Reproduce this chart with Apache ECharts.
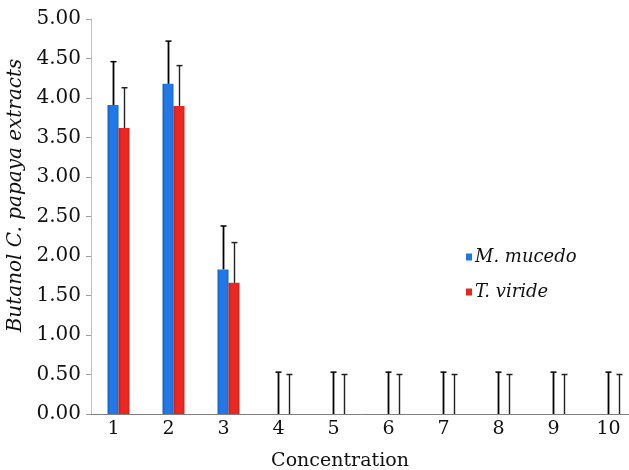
<!DOCTYPE html>
<html>
<head>
<meta charset="utf-8">
<script src="https://cdn.jsdelivr.net/npm/echarts@6/dist/echarts.min.js"></script>
<style>html,body{margin:0;padding:0;background:#fff;}#c{width:629px;height:470px;}</style>
</head>
<body>
<div id="c"></div>
<script>
const categories = ['1','2','3','4','5','6','7','8','9','10'];
const mucedo = [3.91, 4.18, 1.83, 0, 0, 0, 0, 0, 0, 0];
const mucedoErr = [0.55, 0.54, 0.55, 0.53, 0.53, 0.53, 0.53, 0.53, 0.53, 0.53];
const viride = [3.62, 3.90, 1.66, 0, 0, 0, 0, 0, 0, 0];
const virideErr = [0.51, 0.51, 0.51, 0.50, 0.50, 0.50, 0.50, 0.50, 0.50, 0.50];
const yTicks = {min: 0, max: 5, step: 0.5};

const BW = 11;
const chart = echarts.init(document.getElementById('c'));

function errSeries(vals, errs, off, color, lw) {
  return {
    type: 'custom',
    silent: true,
    z: 5,
    data: vals.map((v, i) => [i, v, errs[i]]),
    renderItem: function (params, api) {
      const i = api.value(0), v = api.value(1), e = api.value(2);
      const p0 = api.coord([i, v]);
      const p1 = api.coord([i, v + e]);
      const x = Math.round(p0[0] + off) + 0.5;
      return {
        type: 'group',
        children: [
          {type: 'line', shape: {x1: x, y1: p0[1], x2: x, y2: p1[1]}, style: {stroke: color, lineWidth: lw}},
          {type: 'line', shape: {x1: x - 3, y1: p1[1], x2: x + 3, y2: p1[1]}, style: {stroke: color, lineWidth: 1.5}}
        ]
      };
    }
  };
}

const serif = 'DejaVu Serif';
const blueGrad = new echarts.graphic.LinearGradient(0, 0, 1, 0, [
  {offset: 0, color: '#1a5fb8'}, {offset: 0.25, color: '#2079e6'}, {offset: 0.8, color: '#2079e6'}, {offset: 1, color: '#1b66c4'}]);
const redGrad = new echarts.graphic.LinearGradient(0, 0, 1, 0, [
  {offset: 0, color: '#c81d17'}, {offset: 0.25, color: '#ea2821'}, {offset: 0.8, color: '#ea2821'}, {offset: 1, color: '#cc1f19'}]);
chart.setOption({
  animation: false,
  grid: {left: 91, top: 19, height: 395, width: 550, containLabel: false, outerBoundsMode: 'none'},
  legend: {
    orient: 'vertical', left: 461, top: 243, itemWidth: 6, itemHeight: 7, itemGap: 17,
    icon: 'rect',
    data: [{name: 'M. mucedo', itemStyle: {color: '#1f77e3'}}, {name: 'T. viride', itemStyle: {color: '#e82620'}}],
    textStyle: {fontFamily: serif, fontStyle: 'italic', fontSize: 18, color: '#111', padding: [0,0,0,-2]}
  },
  xAxis: {
    type: 'category', data: categories,
    name: 'Concentration', nameLocation: 'middle', nameGap: 38,
    nameTextStyle: {fontFamily: serif, fontSize: 19, color: '#111', padding: [0, 52, 0, 0]},
    axisLine: {lineStyle: {color: '#7f7f7f', width: 1}},
    axisTick: {show: false},
    axisLabel: {fontFamily: serif, fontSize: 19, color: '#111', margin: 6, padding: [0, 10, 0, 0]}
  },
  yAxis: {
    type: 'value', min: yTicks.min, max: yTicks.max, interval: yTicks.step,
    name: 'Butanol C. papaya extracts', nameLocation: 'middle', nameGap: 62, nameRotate: 90,
    nameTextStyle: {fontFamily: serif, fontStyle: 'italic', fontSize: 20, color: '#111', padding: [0, 0, 0, 42]},
    axisLine: {show: true, lineStyle: {color: '#bfbfbf'}},
    axisTick: {show: true, length: 5, lineStyle: {color: '#a0a0a0'}},
    splitLine: {show: false},
    axisLabel: {fontFamily: serif, fontSize: 20, color: '#111', margin: 10, formatter: v => v.toFixed(2)}
  },
  series: [
    {name: 'M. mucedo', type: 'bar', data: mucedo, barWidth: BW, barGap: '0%',
     itemStyle: {color: blueGrad}},
    {name: 'T. viride', type: 'bar', data: viride, barWidth: BW, barGap: '0%',
     itemStyle: {color: redGrad}},
    errSeries(mucedo, mucedoErr, -BW / 2, '#000', 1.8),
    errSeries(viride, virideErr, BW / 2, '#222', 1.4)
  ]
});
</script>
</body>
</html>
